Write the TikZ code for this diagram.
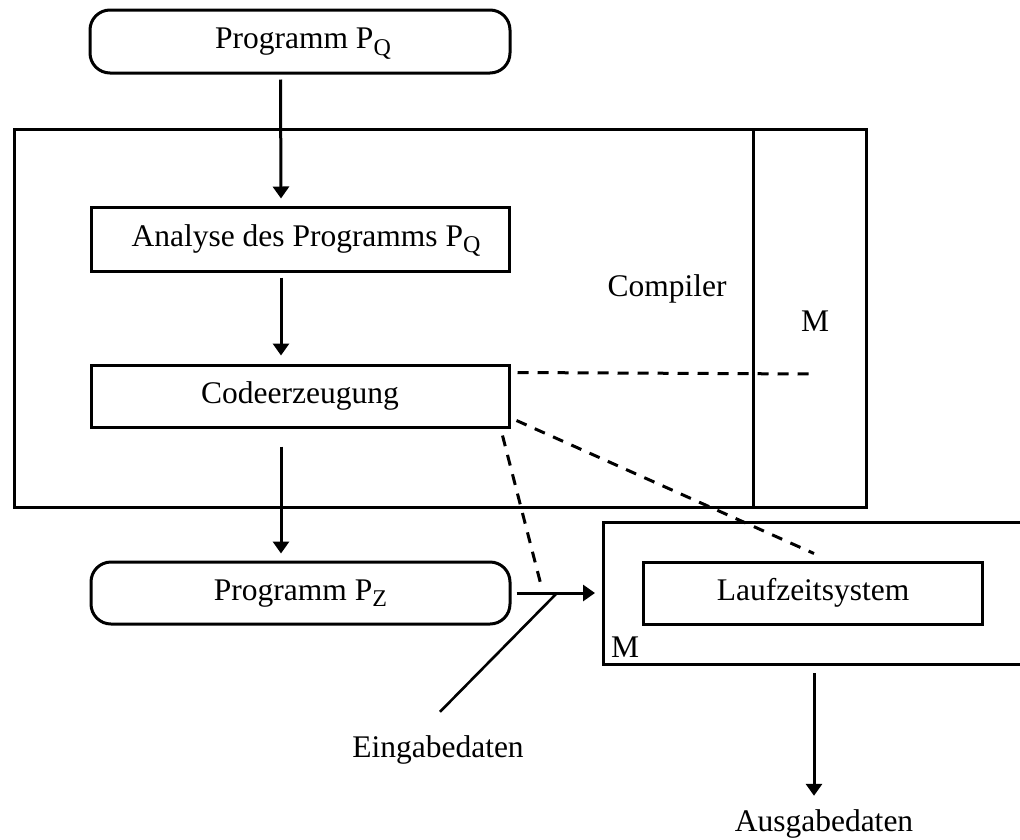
\documentclass[tikz,border=0pt]{standalone}
\usepackage{fontspec}
\setmainfont{Liberation Serif}
\usetikzlibrary{arrows.meta}
% lowered, smaller index letter (P_Q, P_Z)
\newcommand{\idx}[1]{\raisebox{-0.22em}{\fontsize{24}{24}\selectfont #1}}
\begin{document}
\begin{tikzpicture}[x=1pt,y=-1pt,
  every node/.style={font=\fontsize{31.5}{38}\selectfont, inner sep=0pt,
    text height=22pt, text depth=8pt},
  box/.style={draw, line width=3pt, minimum width=418pt, minimum height=62pt},
  prog/.style={box, rounded corners=20pt, minimum width=420pt, minimum height=63pt},
  label/.style={},
  arr/.style={line width=3pt, -{Triangle[width=16pt,length=12pt]}},
  dsh/.style={line width=3pt, dash pattern=on 11pt off 9pt},
  frame/.style={line width=3pt}]
\useasboundingbox (0,0) rectangle (1020,839);

% compiler frame with machine column
\draw[frame] (14,129) rectangle (866,507);
\draw[frame] (753,129) -- (753,507);
\node[label] (compiler) at (667,289) {Compiler};
\node[label] (m1) at (815,324.5) {M};

% left column
\node[prog] (pq) at (300,41.5) {\hspace*{6pt}Programm P\idx{Q}};
\node[box, minimum height=64pt] (ana) at (300,239) {\hspace*{12pt}Analyse des Programms P\idx{Q}};
\node[box] (code) at (300,396) {Codeerzeugung};
\node[prog, minimum width=419pt, minimum height=62pt] (pz) at (300.5,593) {Programm P\idx{Z}};

% target machine (runs off the right edge)
\draw[frame] (1022,522) -- (603,522) -- (603,664) -- (1022,664);
\node[box, minimum width=339pt] (lz) at (813,593) {Laufzeitsystem};
\node[label] (m2) at (625,650) {M};

\node[label] (ein) at (438,750) {Eingabedaten};
\node[label] (aus) at (824,824) {Ausgabedaten};

% flow arrows
\draw[arr] ([xshift=-19.5pt,yshift=-5pt]pq.south) -- ([xshift=-19pt,yshift=7pt]ana.north);
\draw[arr] ([xshift=-19pt,yshift=-5pt]ana.south) -- ([xshift=-19pt,yshift=8pt]code.north);
\draw[arr] ([xshift=-19pt,yshift=-18pt]code.south) -- ([xshift=-19.5pt,yshift=7pt]pz.north);
\draw[arr] ([xshift=5pt]pz.east) -- ([xshift=-8pt]lz.west -| 603,0);
\coordinate (join) at (557,593);
\draw[line width=2.6pt] (join) -- ([xshift=2pt,yshift=23pt]ein.north);
\draw[arr] ([xshift=1pt,yshift=-9pt]lz.south |- 0,664) -- ([xshift=1pt,yshift=13pt]aus.north -| lz.south);

% dashed correspondences
\draw[dsh] ([xshift=7pt,yshift=-9pt]code.north east) -- (812,374);
\draw[dsh] ([xshift=6pt,yshift=8pt]code.south east) -- ([xshift=1pt,yshift=7pt]lz.north);
\draw[dsh] ([xshift=-8pt,yshift=-7pt]code.south east) -- (541,585);
\end{tikzpicture}
\end{document}
